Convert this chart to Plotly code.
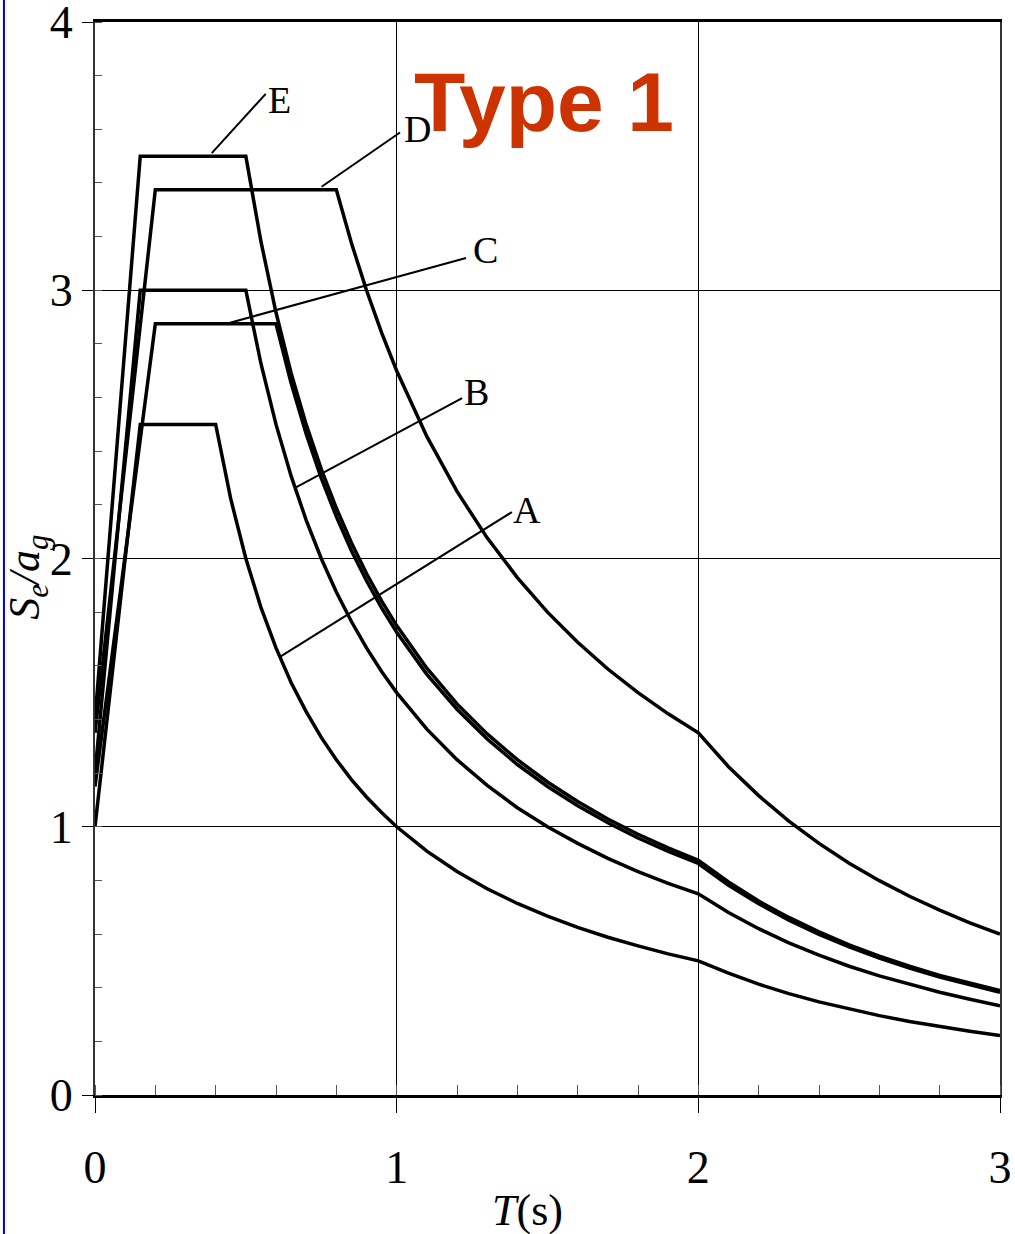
import plotly.graph_objects as go

# ---- Data (T in s, Se/ag) ----
T_A = [0.0, 0.15, 0.40, 0.45, 0.50, 0.55, 0.60, 0.65, 0.70, 0.75, 0.80, 0.85, 0.90, 0.95, 1.00,
       1.10, 1.20, 1.30, 1.40, 1.50, 1.60, 1.70, 1.80, 1.90, 2.00,
       2.10, 2.20, 2.30, 2.40, 2.50, 2.60, 2.70, 2.80, 2.90, 3.00]
Se_A = [1.000, 2.500, 2.500, 2.222, 2.000, 1.818, 1.667, 1.538, 1.429, 1.333, 1.250, 1.176, 1.111, 1.053, 1.000,
        0.909, 0.833, 0.769, 0.714, 0.667, 0.625, 0.588, 0.556, 0.526, 0.500,
        0.454, 0.413, 0.378, 0.347, 0.320, 0.296, 0.274, 0.255, 0.238, 0.222]

T_B = [0.0, 0.15, 0.50, 0.55, 0.60, 0.65, 0.70, 0.75, 0.80, 0.85, 0.90, 0.95, 1.00,
       1.10, 1.20, 1.30, 1.40, 1.50, 1.60, 1.70, 1.80, 1.90, 2.00,
       2.10, 2.20, 2.30, 2.40, 2.50, 2.60, 2.70, 2.80, 2.90, 3.00]
Se_B = [1.200, 3.000, 3.000, 2.727, 2.500, 2.308, 2.143, 2.000, 1.875, 1.765, 1.667, 1.579, 1.500,
        1.364, 1.250, 1.154, 1.071, 1.000, 0.938, 0.882, 0.833, 0.789, 0.750,
        0.680, 0.620, 0.567, 0.521, 0.480, 0.444, 0.412, 0.383, 0.357, 0.333]

T_C = [0.0, 0.20, 0.60, 0.65, 0.70, 0.75, 0.80, 0.85, 0.90, 0.95, 1.00,
       1.10, 1.20, 1.30, 1.40, 1.50, 1.60, 1.70, 1.80, 1.90, 2.00,
       2.10, 2.20, 2.30, 2.40, 2.50, 2.60, 2.70, 2.80, 2.90, 3.00]
Se_C = [1.150, 2.875, 2.875, 2.654, 2.464, 2.300, 2.156, 2.029, 1.917, 1.816, 1.725,
        1.568, 1.438, 1.327, 1.232, 1.150, 1.078, 1.015, 0.958, 0.908, 0.863,
        0.782, 0.713, 0.652, 0.599, 0.552, 0.510, 0.473, 0.440, 0.410, 0.383]

T_D = [0.0, 0.20, 0.80, 0.85, 0.90, 0.95, 1.00,
       1.10, 1.20, 1.30, 1.40, 1.50, 1.60, 1.70, 1.80, 1.90, 2.00,
       2.10, 2.20, 2.30, 2.40, 2.50, 2.60, 2.70, 2.80, 2.90, 3.00]
Se_D = [1.350, 3.375, 3.375, 3.176, 3.000, 2.842, 2.700,
        2.455, 2.250, 2.077, 1.929, 1.800, 1.688, 1.588, 1.500, 1.421, 1.350,
        1.224, 1.116, 1.021, 0.938, 0.864, 0.799, 0.741, 0.689, 0.642, 0.600]

T_E = [0.0, 0.15, 0.50, 0.55, 0.60, 0.65, 0.70, 0.75, 0.80, 0.85, 0.90, 0.95, 1.00,
       1.10, 1.20, 1.30, 1.40, 1.50, 1.60, 1.70, 1.80, 1.90, 2.00,
       2.10, 2.20, 2.30, 2.40, 2.50, 2.60, 2.70, 2.80, 2.90, 3.00]
Se_E = [1.400, 3.500, 3.500, 3.182, 2.917, 2.692, 2.500, 2.333, 2.188, 2.059, 1.944, 1.842, 1.750,
        1.591, 1.458, 1.346, 1.250, 1.167, 1.094, 1.029, 0.972, 0.921, 0.875,
        0.794, 0.723, 0.662, 0.608, 0.560, 0.518, 0.480, 0.446, 0.416, 0.389]

x_ticks = [0, 1, 2, 3]
y_ticks = [0, 1, 2, 3, 4]

series = [("A", T_A, Se_A), ("B", T_B, Se_B), ("C", T_C, Se_C), ("D", T_D, Se_D), ("E", T_E, Se_E)]

# label placement: name, text position (T, Se), leader from (T, Se) to (T, Se)
labels = [
    ("A", 1.432, 2.18, (0.613, 1.633), (1.382, 2.173)),
    ("B", 1.266, 2.62, (0.663, 2.263), (1.217, 2.598)),
    ("C", 1.296, 3.15, (0.4475, 2.879), (1.230, 3.120)),
    ("D", 1.070, 3.60, (0.751, 3.386), (1.011, 3.588)),
    ("E", 0.610, 3.71, (0.387, 3.511), (0.566, 3.732)),
]

SERIF = "Liberation Serif, Times New Roman, serif"

fig = go.Figure()
for name, t, s in series:
    fig.add_trace(go.Scatter(x=t, y=s, mode="lines", name=name,
                             line=dict(color="black", width=3.5), showlegend=False,
                             hoverinfo="skip"))

shapes = []
annotations = []
for name, tx, ty, p0, p1 in labels:
    shapes.append(dict(type="line", xref="x", yref="y", x0=p0[0], y0=p0[1], x1=p1[0], y1=p1[1],
                       line=dict(color="black", width=2)))
    annotations.append(dict(x=tx, y=ty, xref="x", yref="y", text=name, showarrow=False,
                            font=dict(family=SERIF, size=38, color="black"),
                            xanchor="center", yanchor="middle"))

# Type 1 title inside plot
annotations.append(dict(x=1.49, y=3.70, xref="x", yref="y", text="<b>Type 1</b>", showarrow=False,
                        font=dict(family="Liberation Sans, Arial, sans-serif", size=84, color="#CC3300"),
                        xanchor="center", yanchor="middle"))
# Axis titles
annotations.append(dict(x=0.478, y=-0.108, xref="paper", yref="paper", text="<i>T</i>(s)",
                        showarrow=False, font=dict(family=SERIF, size=44, color="black"),
                        xanchor="center", yanchor="middle"))
annotations.append(dict(x=-0.074, y=0.482, xref="paper", yref="paper",
                        text="<i>S<sub>e</sub>/a<sub>g</sub></i>", textangle=-90,
                        showarrow=False, font=dict(family=SERIF, size=44, color="black"),
                        xanchor="center", yanchor="middle"))

# blue page edge line on left
shapes.append(dict(type="line", xref="paper", yref="paper", x0=-0.1006, x1=-0.1006,
                   y0=-0.13, y1=1.03, line=dict(color="#0000CC", width=2)))

fig.update_layout(
    width=1015, height=1234,
    margin=dict(l=95, r=15, t=22, b=139, autoexpand=False),
    paper_bgcolor="white", plot_bgcolor="white",
    shapes=shapes, annotations=annotations,
    showlegend=False,
)
fig.update_xaxes(range=[0, 3], tickvals=x_ticks, ticktext=[str(v) for v in x_ticks],
                 ticks="outside", ticklen=15, tickcolor="black", tickwidth=1,
                 showgrid=True, gridcolor="black", gridwidth=1, zeroline=False,
                 showline=True, linecolor="black", linewidth=3, mirror=True,
                 tickfont=dict(family=SERIF, size=46, color="black"),
                 ticklabelstandoff=15, automargin=False, ticklabeloverflow="allow",
                 minor=dict(dtick=0.2, tick0=0, ticks="inside", ticklen=10, tickcolor="#555",
                            tickwidth=1, showgrid=False))
fig.update_yaxes(range=[0, 4], tickvals=y_ticks, ticktext=[str(v) for v in y_ticks],
                 ticks="outside", ticklen=11, tickcolor="black", tickwidth=1,
                 showgrid=True, gridcolor="black", gridwidth=1, zeroline=False,
                 showline=True, linecolor="#333", linewidth=2, mirror=True,
                 tickfont=dict(family=SERIF, size=46, color="black"),
                 automargin=False, ticklabeloverflow="allow",
                 minor=dict(dtick=0.2, tick0=0, ticks="inside", ticklen=7, tickcolor="#555",
                            tickwidth=1, showgrid=False))

fig.write_html("out.html", config={"displayModeBar": False},
               post_script="document.body.style.margin='0';")
